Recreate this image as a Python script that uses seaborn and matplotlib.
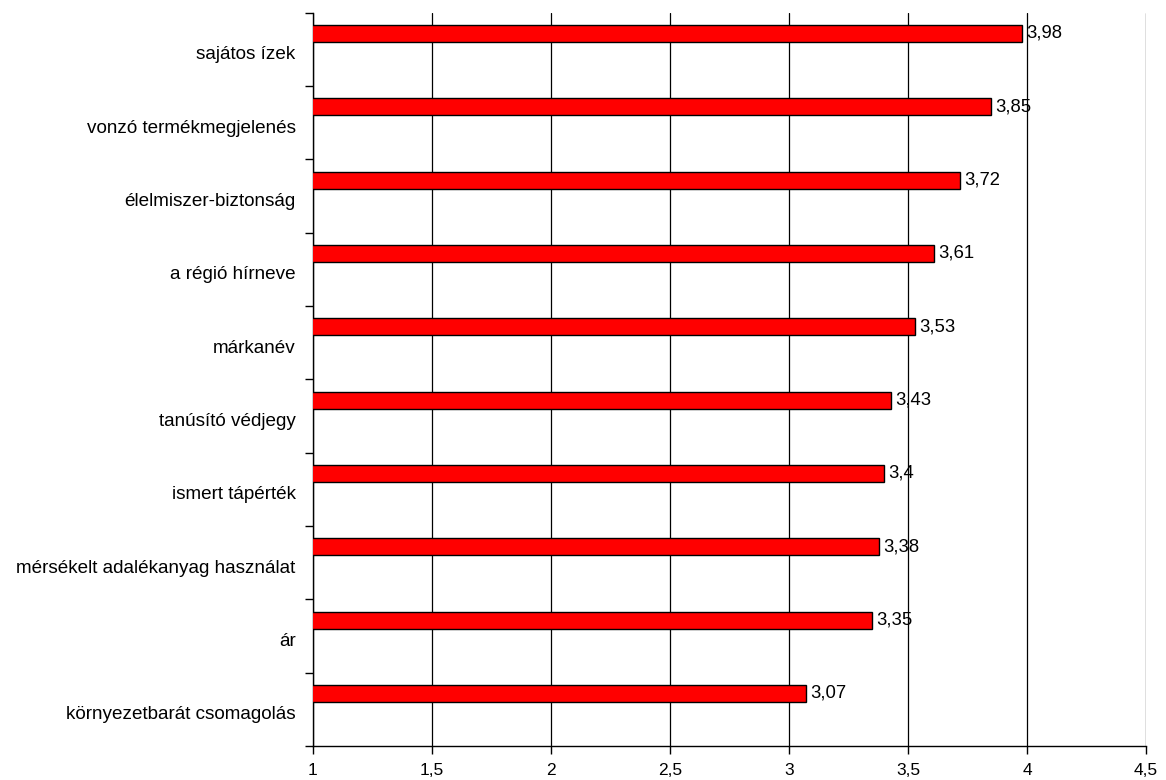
import numpy as np
import matplotlib
matplotlib.use("Agg")
import matplotlib.pyplot as plt
import seaborn as sns

categories = [
    "sajátos ízek",
    "vonzó termékmegjelenés",
    "élelmiszer-biztonság",
    "a régió hírneve",
    "márkanév",
    "tanúsító védjegy",
    "ismert tápérték",
    "mérsékelt adalékanyag használat",
    "ár",
    "környezetbarát csomagolás",
]
scores = [3.98, 3.85, 3.72, 3.61, 3.53, 3.43, 3.4, 3.38, 3.35, 3.07]
x_ticks = [1, 1.5, 2, 2.5, 3, 3.5, 4, 4.5]

sns.set_theme(style="white")
plt.rcParams["font.family"] = ["Liberation Sans", "DejaVu Sans"]
label_size = 13.6
value_size = 13.3
tick_size = 12.5

fig = plt.figure(figsize=(11.66, 7.8), dpi=100)
ax = fig.add_axes([0.2684, 0.0436, 0.9829 - 0.2684, 0.9837 - 0.0436])

sns.barplot(x=scores, y=categories, orient="h", color="#ff0000",
            saturation=1, edgecolor="black", linewidth=1.0, width=0.232,
            ax=ax, zorder=3)

# bars sit in the upper part of each category band
slot_shift = 0.282
label_shift = 0.264
n = len(categories)
ax.set_ylim(n - slot_shift, -slot_shift)
ax.set_yticks(np.arange(n) + label_shift, labels=categories)
ax.set_yticks(np.arange(n + 1) - slot_shift, minor=True)
ax.tick_params(axis="y", which="major", length=0, pad=12.5,
               labelsize=label_size, labelcolor="black")
ax.tick_params(axis="y", which="minor", length=6, width=1, color="black",
               direction="out", left=True)

ax.set_xlim(1, 4.5)
ax.set_xticks(x_ticks, labels=[f"{t:g}".replace(".", ",") for t in x_ticks])
ax.tick_params(axis="x", which="major", length=6, width=1, color="black",
               direction="out", bottom=True, pad=6.5, labelsize=tick_size,
               labelcolor="black")

ax.xaxis.grid(True, color="black", linewidth=0.9, zorder=0)
ax.yaxis.grid(False)
ax.set_axisbelow(True)

for side in ["top", "right"]:
    ax.spines[side].set_visible(False)
for side in ["left", "bottom"]:
    ax.spines[side].set_visible(True)
    ax.spines[side].set_color("black")
    ax.spines[side].set_linewidth(1)

ax.set_xlabel("")
ax.set_ylabel("")

ax.bar_label(ax.containers[0],
             labels=[f"{v:g}".replace(".", ",") for v in scores],
             padding=3, fontsize=value_size, color="black")

fig.savefig("out.png", dpi=100, facecolor="white")
